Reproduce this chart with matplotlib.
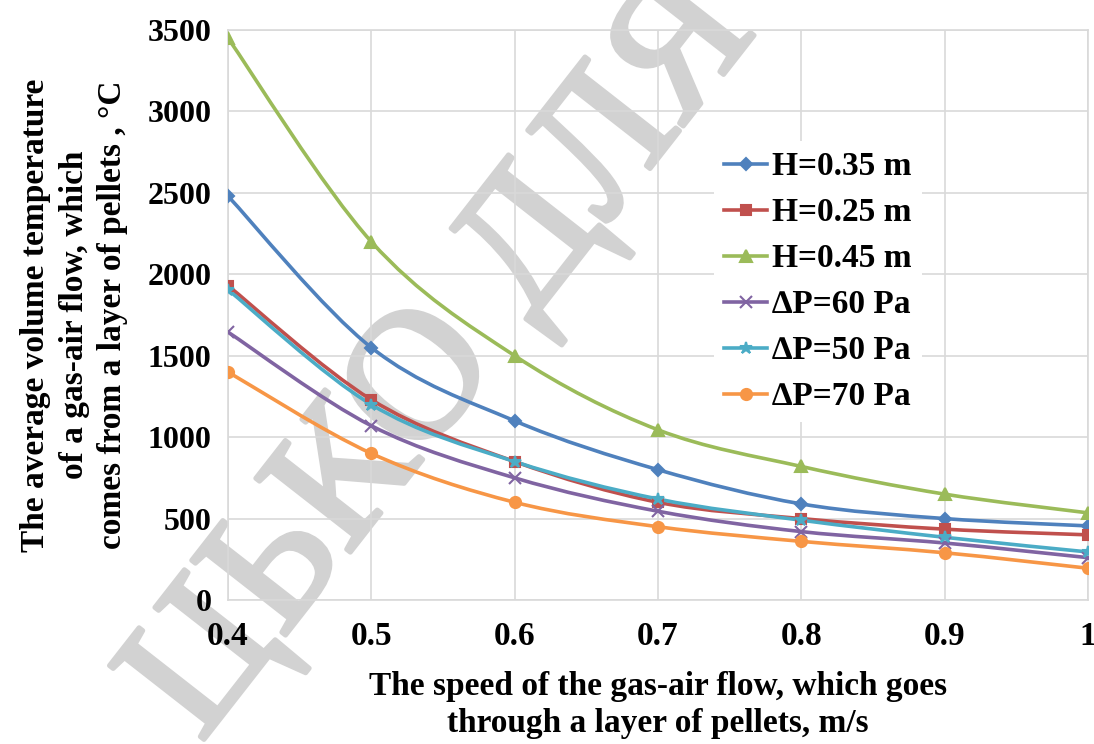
import numpy as np
import matplotlib
matplotlib.use('Agg')
import matplotlib.pyplot as plt
import matplotlib.patheffects as pe
from matplotlib.path import Path
from matplotlib.patches import PathPatch
from matplotlib.lines import Line2D

plt.rcParams['font.family'] = ['Liberation Serif', 'DejaVu Serif']
plt.rcParams['font.weight'] = 'bold'

speed = [0.4, 0.5, 0.6, 0.7, 0.8, 0.9, 1.0]

h035 = [2480, 1550, 1100, 800, 590, 500, 455]
h025 = [1930, 1230, 850, 600, 500, 435, 400]
h045 = [3450, 2200, 1500, 1045, 820, 650, 535]
dp60 = [1645, 1070, 750, 545, 420, 350, 260]
dp50 = [1905, 1200, 850, 620, 490, 385, 295]
dp70 = [1400, 900, 600, 450, 360, 290, 195]

labels = ['H=0.35 m', 'H=0.25 m', 'H=0.45 m', '\u2206P=60 Pa', '\u2206P=50 Pa', '\u2206P=70 Pa']
colors = ['#4F81BD', '#C0504D', '#9BBB59', '#8064A2', '#4BACC6', '#F79646']
markers = ['D', 's', '^', 'x', '*', 'o']
msizes = [6, 7, 8, 8, 9, 8]

yticks = [0, 500, 1000, 1500, 2000, 2500, 3000, 3500]
xticks = [0.4, 0.5, 0.6, 0.7, 0.8, 0.9, 1.0]
xticklabels = ['0.4', '0.5', '0.6', '0.7', '0.8', '0.9', '1']


def smooth_path(x, y):
    # excel-like smoothed line: catmull-rom turned into cubic bezier segments
    pts = np.column_stack([x, y]).astype(float)
    ext = np.vstack([pts[0], pts, pts[-1]])
    verts = [tuple(pts[0])]
    codes = [Path.MOVETO]
    for i in range(1, len(ext) - 2):
        p0, p1, p2, p3 = ext[i - 1], ext[i], ext[i + 1], ext[i + 2]
        c1 = p1 + (p2 - p0) / 6.0
        c2 = p2 - (p3 - p1) / 6.0
        verts += [tuple(c1), tuple(c2), tuple(p2)]
        codes += [Path.CURVE4] * 3
    return Path(verts, codes)


fig = plt.figure(figsize=(10.94, 7.44), dpi=100)
ax = fig.add_axes([228 / 1094, 1 - 600 / 744, 860 / 1094, 570 / 744])
ax.set_facecolor('none')

# watermark behind the chart
wm = fig.text(445 / 1094, 1 - 360 / 744, 'ЦЬКО ДЛЯ', rotation=52, rotation_mode='anchor',
              ha='center', va='center', fontsize=132, fontweight='normal',
              color='#d2d2d2', zorder=-1)
wm.set_path_effects([pe.withStroke(linewidth=3.5, foreground='#d2d2d2')])

series = [h035, h025, h045, dp60, dp50, dp70]
handles = []
for vals, c, m, ms, lab in zip(series, colors, markers, msizes, labels):
    ax.add_patch(PathPatch(smooth_path(speed, vals), facecolor='none', edgecolor=c,
                           lw=2.6, zorder=3))
    ax.plot(speed, vals, linestyle='none', marker=m, markersize=ms, color=c,
            markeredgewidth=1.5, zorder=4)
    handles.append(Line2D([], [], color=c, lw=2.6, marker=m, markersize=ms,
                          markeredgewidth=1.5))

ax.set_xlim(0.4, 1.0)
ax.set_ylim(0, 3500)
ax.set_xticks(xticks)
ax.set_xticklabels(xticklabels)
ax.set_yticks(yticks)
ax.grid(True, color='#d9d9d9', lw=1.2)
ax.set_axisbelow(True)
for s in ax.spines.values():
    s.set_color('#d9d9d9')
    s.set_linewidth(1.2)
ax.tick_params(axis='y', length=0, labelsize=23, pad=12)
ax.tick_params(axis='x', length=0, labelsize=24, pad=15)

ax.set_xlabel('The speed of the gas-air flow, which goes\nthrough a layer of pellets, m/s',
              fontsize=24, fontweight='bold', labelpad=14, linespacing=1.25)
ax.set_ylabel('The average volume temperature\nof a gas-air flow, which\ncomes from a layer of pellets , \u00b0C',
              fontsize=24, fontweight='bold', labelpad=14, linespacing=1.3)

leg = ax.legend(handles, labels, loc='center left', bbox_to_anchor=(0.565, 0.558),
                fontsize=24, frameon=True, handlelength=1.3, handletextpad=0.15,
                labelspacing=0.45, borderpad=0.3, borderaxespad=0)
leg.get_frame().set_facecolor('white')
leg.get_frame().set_edgecolor('none')
leg.get_frame().set_alpha(1)
for t in leg.get_texts():
    t.set_fontweight('bold')

fig.savefig('out.png', dpi=100)
